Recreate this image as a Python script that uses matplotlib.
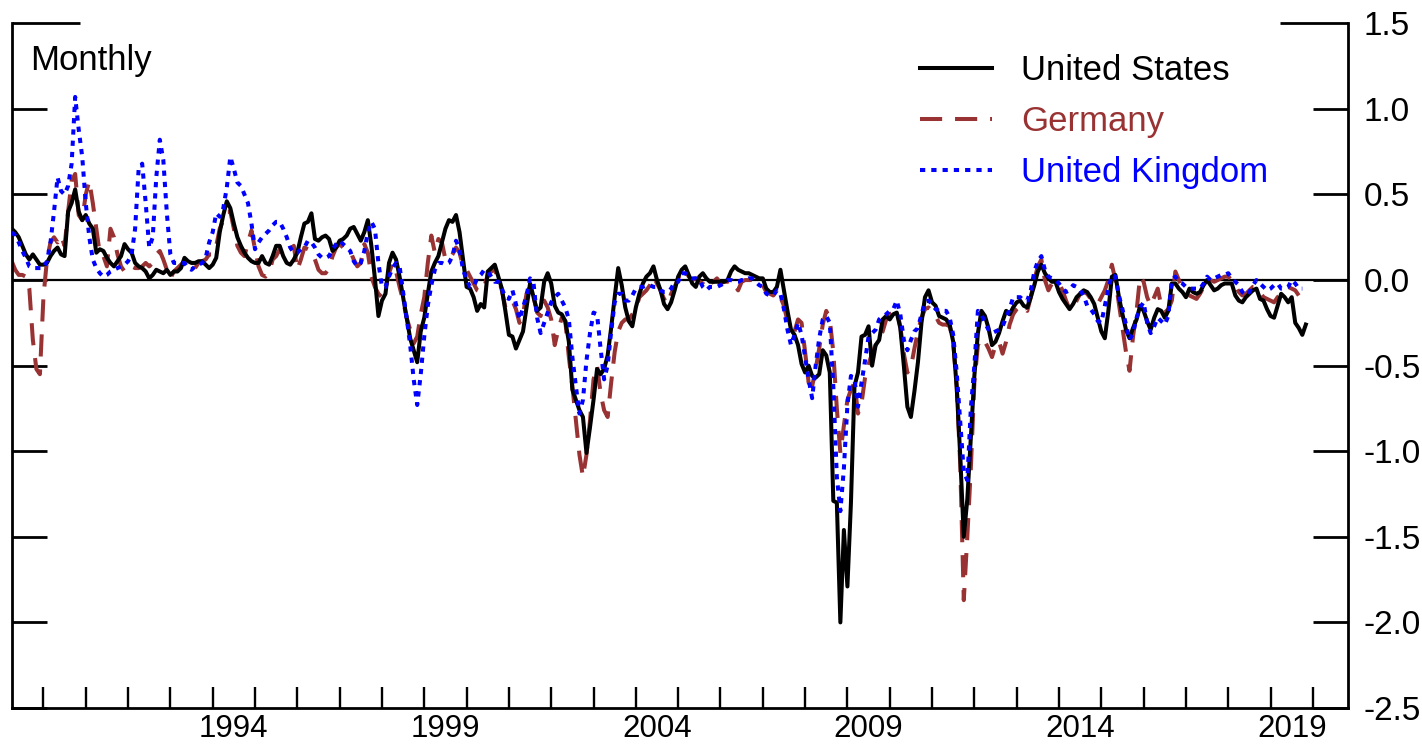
import numpy as np
import matplotlib
matplotlib.use("Agg")
import matplotlib.pyplot as plt

plt.rcParams['font.family'] = ['Liberation Sans', 'DejaVu Sans']
plt.rcParams['axes.unicode_minus'] = False

# Monthly series, starting April 1989
start_year = 1989
start_month = 4

us = [
    0.30, 0.28, 0.25, 0.20, 0.15, 0.12, 0.15, 0.12, 0.09,
    0.09, 0.10, 0.14, 0.17, 0.19, 0.15, 0.14, 0.40, 0.45, 0.53, 0.40, 0.35,
    0.38, 0.33, 0.30, 0.16, 0.18, 0.17, 0.13, 0.10, 0.08, 0.11, 0.14, 0.21,
    0.18, 0.16, 0.10, 0.08, 0.07, 0.05, 0.01, 0.03, 0.06, 0.05, 0.04, 0.06,
    0.03, 0.05, 0.05, 0.07, 0.13, 0.11, 0.10, 0.10, 0.11, 0.11, 0.09, 0.07,
    0.09, 0.13, 0.28, 0.38, 0.46, 0.42, 0.33, 0.25, 0.20, 0.16, 0.13, 0.11,
    0.10, 0.10, 0.14, 0.10, 0.09, 0.14, 0.20, 0.20, 0.14, 0.10, 0.09, 0.12,
    0.16, 0.25, 0.33, 0.34, 0.39, 0.24, 0.23, 0.25, 0.26, 0.24, 0.17, 0.19,
    0.23, 0.24, 0.26, 0.30, 0.31, 0.27, 0.23, 0.28, 0.35, 0.20, 0.01, -0.21,
    -0.12, -0.08, 0.10, 0.16, 0.12, 0.02, -0.10, -0.22, -0.34, -0.41, -0.48, -0.30,
    -0.22, -0.08, 0.05, 0.10, 0.14, 0.22, 0.30, 0.35, 0.34, 0.38, 0.28, 0.12,
    -0.04, -0.05, -0.10, -0.18, -0.14, -0.16, 0.05, 0.07, 0.09, 0.02, -0.05, -0.18,
    -0.32, -0.33, -0.40, -0.35, -0.30, -0.16, -0.02, -0.10, -0.18, -0.16, -0.01, 0.04,
    -0.02, -0.15, -0.19, -0.20, -0.24, -0.36, -0.64, -0.70, -0.76, -0.80, -1.01, -0.86,
    -0.70, -0.52, -0.55, -0.52, -0.44, -0.28, -0.10, 0.07, -0.03, -0.16, -0.24, -0.27,
    -0.16, -0.08, -0.02, 0.02, 0.04, 0.08, 0.00, -0.06, -0.14, -0.17, -0.13, -0.06,
    0.02, 0.06, 0.08, 0.03, -0.02, -0.04, 0.02, 0.04, 0.01, -0.01, -0.01, -0.01,
    -0.01, -0.01, 0.00, 0.05, 0.08, 0.06, 0.05, 0.04, 0.04, 0.03, 0.02, 0.01,
    0.01, -0.05, -0.07, -0.07, -0.04, 0.06, -0.06, -0.18, -0.29, -0.32, -0.38, -0.49,
    -0.54, -0.50, -0.56, -0.57, -0.55, -0.41, -0.44, -0.54, -1.29, -1.30, -2.00, -1.46,
    -1.79, -1.30, -0.62, -0.54, -0.33, -0.32, -0.27, -0.50, -0.38, -0.35, -0.23, -0.21,
    -0.23, -0.20, -0.19, -0.28, -0.50, -0.74, -0.80, -0.65, -0.48, -0.25, -0.10, -0.06,
    -0.13, -0.15, -0.21, -0.22, -0.23, -0.26, -0.36, -0.63, -1.03, -1.50, -1.28, -0.92,
    -0.56, -0.31, -0.18, -0.21, -0.28, -0.38, -0.36, -0.31, -0.24, -0.18, -0.20, -0.16,
    -0.13, -0.12, -0.15, -0.16, -0.10, -0.03, 0.05, 0.09, 0.04, 0.01, -0.01, -0.01,
    -0.07, -0.11, -0.14, -0.17, -0.14, -0.10, -0.08, -0.06, -0.07, -0.10, -0.14, -0.22,
    -0.30, -0.34, -0.18, 0.02, 0.03, -0.10, -0.20, -0.29, -0.34, -0.28, -0.23, -0.15,
    -0.18, -0.24, -0.29, -0.22, -0.17, -0.18, -0.22, -0.18, -0.02, -0.02, -0.05, -0.07,
    -0.10, -0.05, -0.07, -0.08, -0.07, -0.03, 0.00, -0.03, -0.06, -0.05, -0.03, -0.02,
    -0.02, -0.02, -0.09, -0.12, -0.13, -0.10, -0.08, -0.06, -0.05, -0.11, -0.12, -0.17,
    -0.21, -0.22, -0.15, -0.08, -0.10, -0.13, -0.10, -0.25, -0.28, -0.32, -0.26,
]

germany = [
    0.11, 0.06, 0.03, 0.03, 0.02, -0.05, -0.35, -0.52, -0.55,
    -0.10, 0.12, 0.22, 0.25, 0.22, 0.26, 0.20, 0.40, 0.58, 0.62, 0.38, 0.35,
    0.50, 0.58, 0.45, 0.30, 0.15, 0.14, 0.08, 0.30, 0.25, 0.15, 0.08, 0.05,
    0.05, 0.08, 0.07, 0.07, 0.08, 0.10, 0.08, 0.10, 0.15, 0.17, 0.12, 0.06,
    0.01, 0.05, 0.07, 0.09, 0.11, 0.08, 0.09, 0.07, 0.10, 0.11, 0.12, 0.15,
    0.15, 0.20, 0.30, 0.35, 0.40, 0.40, 0.30, 0.20, 0.16, 0.14, 0.22, 0.29,
    0.18, 0.08, 0.03, 0.02, 0.04, 0.12, 0.14, 0.18, 0.14, 0.17, 0.18, 0.20,
    0.06, 0.12, 0.19, 0.18, 0.17, 0.12, 0.06, 0.04, 0.04, 0.07, 0.14, 0.19,
    0.21, 0.19, 0.18, 0.17, 0.12, 0.08, 0.10, 0.21, 0.16, 0.02, -0.04, -0.08,
    -0.10, -0.05, 0.04, 0.10, 0.05, -0.04, -0.12, -0.22, -0.29, -0.37, -0.33, -0.20,
    -0.10, 0.10, 0.26, 0.16, 0.24, 0.22, 0.12, 0.12, 0.15, 0.19, 0.16, 0.08,
    0.06, 0.02, -0.02, -0.06, -0.07, -0.04, 0.03, 0.05, 0.06, 0.01, -0.06, -0.16,
    -0.13, -0.12, -0.17, -0.25, -0.20, -0.08, -0.04, -0.10, -0.19, -0.21, -0.12, -0.16,
    -0.23, -0.38, -0.29, -0.22, -0.24, -0.45, -0.62, -0.82, -1.02, -1.15, -1.02, -0.82,
    -0.58, -0.50, -0.66, -0.76, -0.80, -0.60, -0.42, -0.30, -0.25, -0.23, -0.23, -0.20,
    -0.17, -0.10, -0.08, -0.06, -0.03, 0.02, -0.02, -0.06, -0.11, -0.14, -0.08, -0.04,
    0.01, 0.05, 0.06, 0.02, 0.00, 0.01, -0.01, -0.02, -0.05, -0.02, -0.01, 0.01,
    -0.02, -0.01, -0.01, 0.00, -0.03, -0.06, -0.01, 0.00, 0.00, 0.00, 0.00, -0.02,
    -0.03, -0.07, -0.08, -0.09, -0.05, -0.10, -0.15, -0.24, -0.28, -0.30, -0.23, -0.25,
    -0.42, -0.60, -0.62, -0.52, -0.40, -0.26, -0.18, -0.23, -0.42, -0.75, -1.01, -0.85,
    -0.70, -0.64, -0.60, -0.78, -0.72, -0.57, -0.49, -0.43, -0.38, -0.34, -0.30, -0.23,
    -0.20, -0.19, -0.18, -0.27, -0.43, -0.54, -0.51, -0.40, -0.30, -0.22, -0.17, -0.16,
    -0.18, -0.21, -0.25, -0.26, -0.26, -0.27, -0.36, -0.62, -1.08, -1.87, -1.50, -1.10,
    -0.60, -0.38, -0.34, -0.36, -0.40, -0.45, -0.38, -0.36, -0.43, -0.36, -0.26, -0.20,
    -0.17, -0.15, -0.16, -0.18, -0.10, 0.00, 0.08, 0.12, 0.00, -0.06, -0.02, -0.01,
    -0.02, -0.06, -0.12, -0.17, -0.17, -0.12, -0.08, -0.07, -0.08, -0.11, -0.12, -0.14,
    -0.10, -0.06, 0.00, 0.09, 0.00, -0.14, -0.28, -0.42, -0.53, -0.33, -0.18, 0.02,
    -0.01, -0.10, -0.15, -0.10, -0.05, -0.15, -0.19, -0.17, -0.12, 0.05, 0.00, -0.05,
    -0.08, -0.09, -0.10, -0.11, -0.08, -0.04, -0.01, 0.00, -0.01, 0.00, 0.01, 0.02,
    0.02, 0.00, -0.03, -0.07, -0.09, -0.08, -0.06, -0.04, -0.04, -0.07, -0.10, -0.11,
    -0.12, -0.13, -0.10, -0.08, -0.05, -0.04, -0.05, -0.06, -0.09,
]

uk = [
    0.28, 0.26, 0.22, 0.17, 0.13, 0.08, 0.07, 0.07, 0.07,
    0.07, 0.11, 0.22, 0.40, 0.60, 0.52, 0.50, 0.55, 0.68, 1.07, 0.88, 0.72,
    0.45, 0.25, 0.12, 0.07, 0.04, 0.02, 0.03, 0.05, 0.06, 0.07, 0.08, 0.09,
    0.11, 0.15, 0.30, 0.65, 0.68, 0.45, 0.19, 0.25, 0.60, 0.82, 0.70, 0.39,
    0.15, 0.10, 0.10, 0.10, 0.10, 0.07, 0.06, 0.08, 0.09, 0.10, 0.13, 0.22,
    0.28, 0.39, 0.37, 0.42, 0.54, 0.72, 0.65, 0.57, 0.55, 0.50, 0.45, 0.33,
    0.18, 0.22, 0.25, 0.27, 0.29, 0.32, 0.34, 0.34, 0.30, 0.25, 0.19, 0.16,
    0.16, 0.18, 0.19, 0.23, 0.22, 0.19, 0.15, 0.13, 0.13, 0.14, 0.18, 0.21,
    0.23, 0.21, 0.19, 0.17, 0.11, 0.08, 0.10, 0.17, 0.28, 0.34, 0.30, 0.10,
    -0.04, -0.04, 0.02, 0.07, 0.10, 0.08, -0.07, -0.22, -0.38, -0.58, -0.73, -0.55,
    -0.33, -0.15, -0.03, 0.06, 0.10, 0.10, 0.09, 0.10, 0.14, 0.23, 0.18, 0.06,
    0.00, -0.04, -0.04, 0.01, 0.03, 0.06, 0.05, 0.02, -0.01, -0.01, -0.05, -0.10,
    -0.11, -0.06, -0.14, -0.23, -0.16, -0.09, 0.01, -0.02, -0.22, -0.31, -0.25, -0.19,
    -0.13, -0.10, -0.08, -0.12, -0.16, -0.23, -0.45, -0.62, -0.78, -0.70, -0.47, -0.31,
    -0.19, -0.20, -0.40, -0.58, -0.50, -0.30, -0.13, -0.08, -0.08, -0.12, -0.12, -0.09,
    -0.05, -0.04, -0.04, -0.03, -0.03, -0.04, -0.04, -0.06, -0.07, -0.07, -0.05, -0.01,
    -0.01, 0.04, 0.04, 0.02, 0.01, 0.01, 0.00, -0.04, -0.06, -0.04, -0.04, -0.04,
    -0.03, -0.02, 0.00, 0.00, -0.01, -0.01, 0.00, 0.00, 0.01, 0.01, -0.01, -0.03,
    -0.04, -0.08, -0.09, -0.09, -0.06, -0.08, -0.17, -0.29, -0.38, -0.32, -0.25, -0.32,
    -0.45, -0.58, -0.69, -0.50, -0.34, -0.23, -0.21, -0.25, -0.62, -1.15, -1.35, -1.10,
    -0.73, -0.56, -0.58, -0.74, -0.60, -0.47, -0.33, -0.31, -0.29, -0.23, -0.21, -0.20,
    -0.18, -0.17, -0.12, -0.20, -0.35, -0.41, -0.35, -0.30, -0.28, -0.20, -0.13, -0.12,
    -0.14, -0.17, -0.18, -0.18, -0.18, -0.22, -0.32, -0.54, -0.83, -1.12, -1.17, -0.75,
    -0.50, -0.18, -0.20, -0.25, -0.29, -0.31, -0.30, -0.29, -0.27, -0.22, -0.17, -0.10,
    -0.10, -0.10, -0.12, -0.12, -0.06, 0.05, 0.11, 0.14, 0.06, 0.02, 0.01, 0.00,
    -0.02, -0.05, -0.07, -0.06, -0.03, -0.04, -0.06, -0.09, -0.15, -0.17, -0.20, -0.24,
    -0.25, -0.15, -0.05, 0.03, 0.02, -0.09, -0.17, -0.26, -0.35, -0.31, -0.22, -0.16,
    -0.13, -0.25, -0.31, -0.27, -0.22, -0.24, -0.26, -0.21, 0.00, 0.02, -0.01, -0.02,
    -0.04, -0.05, -0.05, -0.05, -0.05, -0.02, 0.02, 0.00, 0.01, 0.02, 0.03, 0.03,
    0.04, 0.01, -0.01, -0.03, -0.07, -0.09, -0.07, -0.03, 0.00, -0.02, -0.04, -0.06,
    -0.05, -0.03, -0.02, -0.05, -0.05, -0.04, 0.00, -0.02, -0.05, -0.05,
]

series_names = ["United States", "Germany", "United Kingdom"]
series_colors = ["#000000", "#993333", "#0000FF"]

y_ticks = [1.5, 1.0, 0.5, 0.0, -0.5, -1.0, -1.5, -2.0, -2.5]
y_tick_labels = ["1.5", "1.0", "0.5", "0.0", "-0.5", "-1.0", "-1.5", "-2.0", "-2.5"]
year_ticks = list(range(1990, 2021))
year_labels = ["1994", "1999", "2004", "2009", "2014", "2019"]


def month_axis(values):
    t0 = start_year + (start_month - 1) / 12.0
    return t0 + np.arange(len(values)) / 12.0


fig = plt.figure(figsize=(14.22, 7.44), dpi=100)
ax = fig.add_axes([11.7 / 1422, 36 / 744, (1348 - 11.7) / 1422, (708 - 23.3) / 744])

lw = 2.9
l_us, = ax.plot(month_axis(us), us, color=series_colors[0], lw=lw,
                solid_joinstyle='round', zorder=3)
l_de, = ax.plot(month_axis(germany), germany, color=series_colors[1], lw=lw,
                dashes=(5.5, 3.2), zorder=2)
l_uk, = ax.plot(month_axis(uk), uk, color=series_colors[2], lw=lw,
                dashes=(1.3, 1.5), zorder=4)

ax.axhline(0, color='black', lw=1.6, zorder=1)

ax.set_xlim(1989.25, 2020.83)
ax.set_ylim(-2.5, 1.5)

for s in ['left', 'right', 'bottom']:
    ax.spines[s].set_linewidth(2.0)
ax.spines['top'].set_visible(False)

# y ticks both sides, labels right
ax.set_yticks(y_ticks)
ax.set_yticklabels(y_tick_labels)
ax.yaxis.set_ticks_position('both')
ax.tick_params(axis='y', direction='in', length=25, width=2.0,
               labelleft=False, labelright=True, labelsize=24, pad=11)
for tk, val in zip(ax.yaxis.get_major_ticks(), y_ticks):
    if val == 1.5:
        tk.tick1line.set_markersize(49)
        tk.tick2line.set_markersize(49)

# x ticks: year boundaries, labels at mid-year
ax.set_xticks(year_ticks)
ax.set_xticklabels([])
ax.set_xticks([int(y) + 0.5 for y in year_labels], minor=True)
ax.set_xticklabels(year_labels, minor=True)
ax.tick_params(axis='x', which='major', direction='in', length=15, width=1.7,
               top=False)
ax.tick_params(axis='x', which='minor', length=0, labelsize=22.5, pad=4,
               top=False)

ax.text(0.0137, 0.932, "Monthly", transform=ax.transAxes, fontsize=25,
        ha='left', va='baseline')

leg = ax.legend(handles=[l_us, l_de, l_uk], labels=series_names,
                loc='upper left', bbox_to_anchor=(0.680, 0.955),
                frameon=False, fontsize=25, handlelength=2.05,
                handletextpad=0.85, labelspacing=0.52, borderaxespad=0,
                borderpad=0, labelcolor='linecolor')

fig.savefig("out.png", dpi=100)
